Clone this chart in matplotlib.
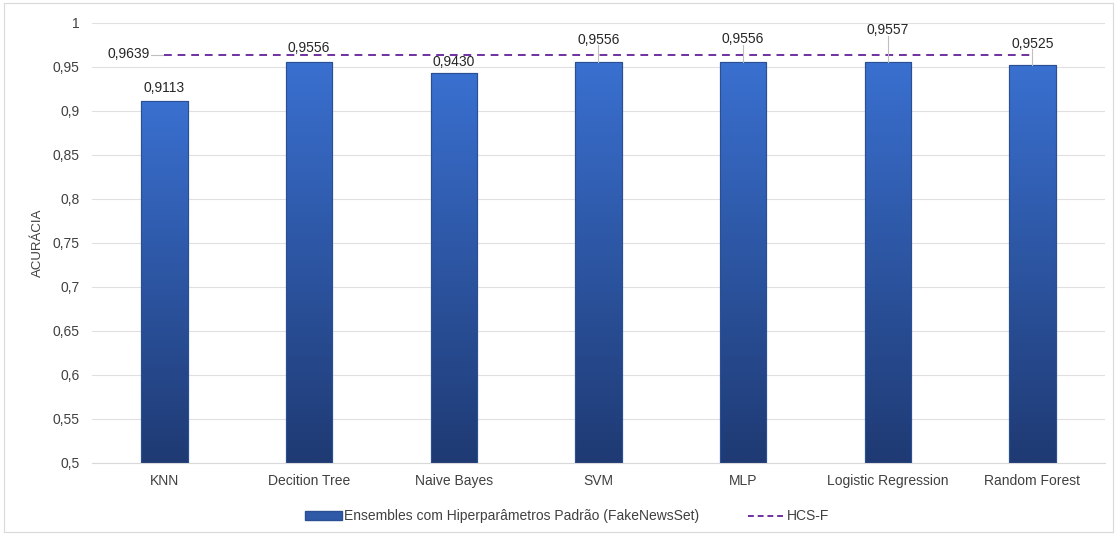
import matplotlib
matplotlib.use("Agg")
import matplotlib.pyplot as plt
import numpy as np
from matplotlib.patches import Rectangle
from matplotlib.lines import Line2D
from matplotlib.ticker import FuncFormatter

categories = ["KNN", "Decition Tree", "Naive Bayes", "SVM", "MLP",
              "Logistic Regression", "Random Forest"]
accuracy = [0.9113, 0.9556, 0.9430, 0.9556, 0.9556, 0.9557, 0.9525]
label_y = [0.9265, 0.9710, 0.9555, 0.9810, 0.9815, 0.9920, 0.9765]
hcs_f = 0.9639
bar_label = "Ensembles com Hiperparâmetros Padrão (FakeNewsSet)"
line_label = "HCS-F"

plt.rcParams['font.family'] = ['Liberation Sans', 'DejaVu Sans']

fig = plt.figure(figsize=(11.17, 5.34), dpi=100)
ax = fig.add_axes([0.0824, 0.133, 0.9066, 0.824])

x = np.arange(len(categories))
width = 0.32
bars = ax.bar(x, accuracy, width=width, color="#2f5aa8", edgecolor="#2a4f92",
              linewidth=0.8, zorder=2)

# vertical gradient fill clipped to each bar
grad = np.linspace(0, 1, 256).reshape(-1, 1)
cmap = matplotlib.colors.LinearSegmentedColormap.from_list(
    "g", ["#1f3a73", "#3a70d0"])
for b in bars:
    im = ax.imshow(grad, cmap=cmap, origin="lower", aspect="auto",
                   extent=[b.get_x(), b.get_x() + b.get_width(), 0.5, b.get_height()],
                   zorder=2.5)
    im.set_clip_path(b)

for b in bars:
    ax.add_patch(Rectangle((b.get_x(), 0.5), b.get_width(), b.get_height() - 0.5,
                           fill=False, edgecolor="#2a4f92", linewidth=0.8, zorder=3))

ax.plot([x[0], x[-1]], [hcs_f, hcs_f], linestyle=(0, (4, 3)), color="#7030a0",
        linewidth=1.4, zorder=4)
ax.text(x[0] - 0.1, hcs_f + 0.0005, f"{hcs_f:.4f}".replace(".", ","), ha="right",
        va="center", fontsize=10, color="#262626")
ax.plot([x[0] - 0.09, x[0]], [hcs_f, hcs_f], color="#bfbfbf", linewidth=0.8)

for xi, v, ly in zip(x, accuracy, label_y):
    ax.text(xi, ly, f"{v:.4f}".replace(".", ","), ha="center", va="center",
            fontsize=10, color="#262626", zorder=5)
    if ly - v > 0.02:
        ax.plot([xi, xi], [v, ly - 0.0065], color="#bfbfbf", linewidth=0.8, zorder=4)

ax.set_ylim(0.5, 1.0)
ax.set_xlim(-0.5, len(categories) - 0.5)
ax.set_yticks(np.arange(0.5, 1.0001, 0.05))
ax.yaxis.set_major_formatter(FuncFormatter(
    lambda v, p: ("%g" % round(v, 2)).replace(".", ",")))
ax.set_xticks(x)
ax.set_xticklabels(categories)
ax.tick_params(axis="both", length=0, labelsize=10, colors="#404040", pad=8)
ax.tick_params(axis="y", pad=9)
ax.grid(axis="y", color="#e0e0e0", linewidth=0.8, zorder=0)
ax.set_axisbelow(True)
for s in ["top", "right", "left"]:
    ax.spines[s].set_visible(False)
ax.spines["bottom"].set_color("#d9d9d9")
ax.set_ylabel("ACURÁCIA", fontsize=9.5, color="#404040", labelpad=6)

handles = [Rectangle((0, 0), 1, 1, facecolor="#2f5aa8", edgecolor="#2a4f92"),
           Line2D([0], [0], linestyle=(0, (3, 2)), color="#7030a0", linewidth=1.4)]
fig.legend(handles, [bar_label, line_label], loc="center", bbox_to_anchor=(0.508, 0.033),
           ncol=2, frameon=False, fontsize=10, handlelength=2.6, columnspacing=3.5,
           handletextpad=0.2, labelcolor="#404040")

fig.add_artist(Rectangle((0.004, 0.004), 0.992, 0.99, transform=fig.transFigure,
                         fill=False, edgecolor="#d9d9d9", linewidth=0.8))

fig.savefig("out.png", dpi=100, facecolor="white")
